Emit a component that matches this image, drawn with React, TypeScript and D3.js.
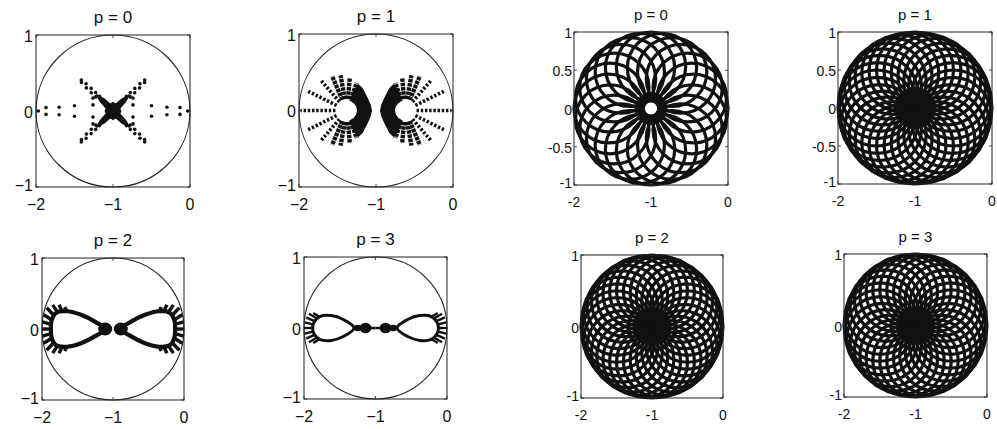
import React from "react";
import * as d3 from "d3";

const W = 997;
const H = 429;
const FONT = "'Liberation Sans', Arial, Helvetica, sans-serif";
const INK = "#111";

// ---------- data (offsets are measured from the disc centre at (-1, 0)) ----------

// p = 0, scatter: first-quadrant dots, mirrored about both axes
const p0AxisDots: [number, number][] = [
  [0.97, 0], [0.87, 0.045], [0.7, 0.05], [0.5, 0.07], [0.26, 0.08], [0.26, 0.17],
];
const p0ArmAngle = 43.6; // degrees
// [distance along the diagonal arm, sideways offset]
const p0ArmDots: [number, number][] = [
  [0.58, 0.012], [0.555, -0.012], [0.5, 0.018], [0.46, -0.018], [0.41, 0.02],
  [0.37, -0.02], [0.33, 0.02], [0.29, -0.02], [0.26, 0.02],
];
// dense core outline, [angle deg, radius] in the first quadrant
const p0Core: [number, number][] = [
  [0, 0.1], [22, 0.09], [37, 0.2], [45, 0.3], [53, 0.2], [68, 0.09], [90, 0.11],
];

// p = 1, scatter: two ringed clusters
const p1EyeOffset = 0.377;
const p1HoleRadius = 0.13;
const p1RayTips: [number, number][] = [
  [-0.98, 0], [-0.9, 0.26], [-0.72, 0.4], [-0.57, 0.45], [-0.46, 0.46], [-0.34, 0.43], [-0.25, 0.36],
];
const p1Lens: [number, number][] = [
  [-0.33, 0.13], [-0.29, 0.24], [-0.23, 0.33], [-0.18, 0.28], [-0.12, 0.16], [-0.08, 0.07], [-0.065, 0],
];

// p = 2, scatter: figure-of-eight
const p2Lobe: [number, number][] = [
  [0.11, 0], [0.25, 0.1], [0.45, 0.2], [0.65, 0.25], [0.8, 0.23], [0.865, 0.12], [0.875, 0],
];
const p2Knots: [number, number][] = [[0.11, 0.09]]; // [offset, radius]
const p2Comb: [number, number, number, number][] = [
  [0.86, 0, 1.0, 0], [0.86, 0.06, 0.995, 0.1], [0.85, 0.12, 0.975, 0.2], [0.82, 0.18, 0.935, 0.3],
  [0.77, 0.22, 0.85, 0.34], [0.71, 0.24, 0.76, 0.34], [0.65, 0.25, 0.68, 0.31],
];

// p = 3, scatter: flatter figure-of-eight
const p3Lobe: [number, number][] = [
  [0.3, 0], [0.45, 0.12], [0.62, 0.175], [0.78, 0.16], [0.86, 0.08], [0.88, 0],
];
const p3Knots: [number, number][] = [[0.14, 0.075], [0.25, 0.045]];
const p3Comb: [number, number, number, number][] = [
  [0.88, 0, 1.0, 0], [0.875, 0.05, 0.99, 0.08], [0.86, 0.1, 0.97, 0.15],
  [0.83, 0.14, 0.93, 0.2], [0.79, 0.16, 0.87, 0.21],
];

// rosettes: number of circles, circle radius, distance of centres from (-1, 0)
const rosetteCount = [24, 32, 32, 32];
const rosetteRadius = [0.45, 0.5, 0.5, 0.5];
const rosetteOffset = [0.55, 0.5, 0.5, 0.5];

const titles = ["p = 0", "p = 1", "p = 2", "p = 3"];
const xTicks = [-2, -1, 0];
const yTicksLeft = [-1, 0, 1];
const yTicksRightTop = [-1, -0.5, 0, 0.5, 1];
const yTicksRightBottom = [-1, 0, 1];

// ---------- layout ----------
type Frame = { l: number; t: number; r: number; b: number };
const frames: Frame[] = [
  { l: 36, t: 35, r: 190, b: 187 },
  { l: 299, t: 34, r: 453, b: 187 },
  { l: 42, t: 258, r: 184, b: 400 },
  { l: 304, t: 257, r: 447, b: 399 },
  { l: 574, t: 32, r: 728, b: 185 },
  { l: 838, t: 32, r: 992, b: 184 },
  { l: 581, t: 255, r: 723, b: 398 },
  { l: 844, t: 254, r: 987, b: 397 },
];

type S = d3.ScaleLinear<number, number>;

function mirror4(pts: [number, number][]): [number, number][] {
  const out: [number, number][] = [];
  const seen = new Set<string>();
  for (const [a, b] of pts) {
    for (const sx of [1, -1]) for (const sy of [1, -1]) {
      const p: [number, number] = [a * sx, b * sy];
      const k = p[0].toFixed(4) + "," + p[1].toFixed(4);
      if (!seen.has(k)) { seen.add(k); out.push(p); }
    }
  }
  return out;
}

function fmt(v: number, minus: string) {
  return String(v).replace("-", minus);
}

function Axes(props: {
  f: Frame; title: string; yTicks: number[]; variant: "left" | "right";
  draw: (x: S, y: S) => React.ReactNode;
}) {
  const { f, title, yTicks, variant, draw } = props;
  const x = d3.scaleLinear().domain([-2, 0]).range([f.l, f.r]);
  const y = d3.scaleLinear().domain([-1, 1]).range([f.b, f.t]);
  const left = variant === "left";
  const fs = left ? 16 : 14;
  const tfs = left ? 17 : 15;
  const minus = left ? "\u2212" : "-";
  const tl = 3;
  return (
    <g>
      {draw(x, y)}
      <rect x={f.l} y={f.t} width={f.r - f.l} height={f.b - f.t} fill="none" stroke="#222" strokeWidth={1} />
      {xTicks.map((v) => (
        <g key={"xt" + v}>
          <line x1={x(v)} x2={x(v)} y1={f.b} y2={f.b - tl} stroke="#222" strokeWidth={0.8} />
          <line x1={x(v)} x2={x(v)} y1={f.t} y2={f.t + tl} stroke="#222" strokeWidth={0.8} />
          <text x={x(v)} y={f.b + 17} textAnchor="middle" dominantBaseline="central"
            fontFamily={FONT} fontSize={fs} fill={INK}>{fmt(v, minus)}</text>
        </g>
      ))}
      {yTicks.map((v) => (
        <g key={"yt" + v}>
          <line x1={f.l} x2={f.l + tl} y1={y(v)} y2={y(v)} stroke="#222" strokeWidth={0.8} />
          <line x1={f.r} x2={f.r - tl} y1={y(v)} y2={y(v)} stroke="#222" strokeWidth={0.8} />
          <text x={f.l - (left ? 3 : 2)} y={y(v) + (v === -1 ? -2 : 1)} textAnchor="end" dominantBaseline="central"
            fontFamily={FONT} fontSize={fs} fill={INK}>{fmt(v, minus)}</text>
        </g>
      ))}
      <text x={(f.l + f.r) / 2} y={f.t - 18} textAnchor="middle" dominantBaseline="central"
        fontFamily={FONT} fontSize={tfs} fill={INK}>{title}</text>
    </g>
  );
}

function UnitCircle({ x, y }: { x: S; y: S }) {
  return (
    <ellipse cx={x(-1)} cy={y(0)} rx={x(0) - x(-1)} ry={y(0) - y(1)}
      fill="none" stroke="#222" strokeWidth={1.1} />
  );
}

function P0({ x, y }: { x: S; y: S }) {
  const px = (dx: number) => x(-1 + dx);
  const py = (dy: number) => y(dy);
  const a = (p0ArmAngle * Math.PI) / 180;
  const arm: [number, number][] = p0ArmDots.map(([r, o]) => [
    r * Math.cos(a) - o * Math.sin(a), r * Math.sin(a) + o * Math.cos(a),
  ]);
  const dots = mirror4(p0AxisDots).concat(mirror4(arm));
  const corePts: [number, number][] = [];
  for (const [deg, r] of p0Core) corePts.push([deg, r]);
  for (const [deg, r] of p0Core) corePts.push([180 - deg, r]);
  for (const [deg, r] of p0Core) corePts.push([180 + deg, r]);
  for (const [deg, r] of p0Core) corePts.push([360 - deg, r]);
  corePts.sort((p, q) => p[0] - q[0]);
  const core = d3.line<[number, number]>()
    .x((d) => px(d[1] * Math.cos((d[0] * Math.PI) / 180)))
    .y((d) => py(d[1] * Math.sin((d[0] * Math.PI) / 180)))
    .curve(d3.curveLinearClosed)(corePts) as string;
  return (
    <g>
      <UnitCircle x={x} y={y} />
      <path d={core} fill={INK} stroke={INK} strokeWidth={1.5} strokeLinejoin="round" />
      {dots.map((d, i) => (
        <circle key={i} cx={px(d[0])} cy={py(d[1])} r={1.8} fill={INK} />
      ))}
    </g>
  );
}

function P1({ x, y }: { x: S; y: S }) {
  const px = (dx: number) => x(-1 + dx);
  const py = (dy: number) => y(dy);
  const kx = x(0) - x(-1);
  const ky = y(0) - y(1);
  return (
    <g>
      <UnitCircle x={x} y={y} />
      {[1, -1].map((sx) => {
        const ex = -p1EyeOffset;
        const lower = p1Lens.slice(0, -1).map(([a, b]) => [a, -b] as [number, number]).reverse();
        const poly: [number, number][] = [[ex, 0.05] as [number, number]]
          .concat(p1Lens).concat(lower).concat([[ex, -0.05]]);
        const lens = d3.line<[number, number]>()
          .x((d) => px(sx * d[0])).y((d) => py(d[1]))
          .curve(d3.curveLinearClosed)(poly) as string;
        const tips = mirror4(p1RayTips).filter((t) => t[0] < 0);
        return (
          <g key={sx}>
            <path d={lens} fill={INK} stroke={INK} strokeWidth={2} strokeLinejoin="round" />
            {tips.map((t, i) => {
              const vx = t[0] - ex;
              const vy = t[1];
              const len = Math.hypot(vx, vy);
              const s0 = p1HoleRadius + 0.02;
              const outer = t[0] < -0.7;
              return (
                <line key={i}
                  x1={px(sx * (ex + (vx / len) * s0))} y1={py((vy / len) * s0)}
                  x2={px(sx * t[0])} y2={py(t[1])}
                  stroke={INK} strokeWidth={outer ? 3.6 : 4.4}
                  strokeDasharray={outer ? "2.4 1.8" : "3.5 0.8"} />
              );
            })}
            <ellipse cx={px(sx * ex)} cy={py(0)} rx={p1HoleRadius * kx} ry={p1HoleRadius * ky}
              fill="#fff" />
          </g>
        );
      })}
    </g>
  );
}

function Eight(props: {
  x: S; y: S; lobe: [number, number][]; knots: [number, number][];
  comb: [number, number, number, number][]; width: number; combWidth: number; bridge: boolean;
}) {
  const { x, y, lobe, knots, comb, width, combWidth, bridge } = props;
  const px = (dx: number) => x(-1 + dx);
  const py = (dy: number) => y(dy);
  const kx = x(0) - x(-1);
  const ky = y(0) - y(1);
  return (
    <g>
      <UnitCircle x={x} y={y} />
      {[1, -1].map((sx) => {
        const pts: [number, number][] = lobe
          .concat(lobe.slice(1, -1).map(([a, b]) => [a, -b] as [number, number]).reverse());
        const d = d3.line<[number, number]>()
          .x((p) => px(sx * p[0])).y((p) => py(p[1]))
          .curve(d3.curveCatmullRomClosed)(pts) as string;
        const combs = comb.flatMap((c) => (c[1] === 0 && c[3] === 0 ? [c] : [c, [c[0], -c[1], c[2], -c[3]] as typeof c]));
        return (
          <g key={sx}>
            <path d={d} fill="none" stroke={INK} strokeWidth={width} />
            {combs.map((c, i) => (
              <line key={i} x1={px(sx * c[0])} y1={py(c[1])} x2={px(sx * c[2])} y2={py(c[3])}
                stroke={INK} strokeWidth={combWidth} />
            ))}
            {knots.map(([o, r], i) => (
              <ellipse key={i} cx={px(sx * o)} cy={py(0)} rx={r * kx * 1.1} ry={r * ky} fill={INK} />
            ))}
            {bridge && (
              <line x1={px(0)} y1={py(0)} x2={px(sx * lobe[0][0])} y2={py(0)} stroke={INK} strokeWidth={2.5} />
            )}
          </g>
        );
      })}
    </g>
  );
}

function Rosette({ x, y, i }: { x: S; y: S; i: number }) {
  const kx = x(0) - x(-1);
  const ky = y(0) - y(1);
  const n = rosetteCount[i];
  const r = rosetteRadius[i];
  const d = rosetteOffset[i];
  return (
    <g>
      {d3.range(n).map((k) => {
        const th = (2 * Math.PI * k) / n;
        return (
          <ellipse key={k} cx={x(-1 + d * Math.cos(th))} cy={y(d * Math.sin(th))}
            rx={r * kx} ry={r * ky} fill="none" stroke={INK} strokeWidth={3.2} />
        );
      })}
    </g>
  );
}

export default function App() {
  return (
    <svg width={W} height={H} viewBox={`0 0 ${W} ${H}`}
      style={{ position: "absolute", left: 0, top: 0, background: "#fff" }}>
      <rect width={W} height={H} fill="#fff" />
      <Axes f={frames[0]} title={titles[0]} yTicks={yTicksLeft} variant="left"
        draw={(x, y) => <P0 x={x} y={y} />} />
      <Axes f={frames[1]} title={titles[1]} yTicks={yTicksLeft} variant="left"
        draw={(x, y) => <P1 x={x} y={y} />} />
      <Axes f={frames[2]} title={titles[2]} yTicks={yTicksLeft} variant="left"
        draw={(x, y) => <Eight x={x} y={y} lobe={p2Lobe} knots={p2Knots} comb={p2Comb} width={4.2} combWidth={3.4} bridge={false} />} />
      <Axes f={frames[3]} title={titles[3]} yTicks={yTicksLeft} variant="left"
        draw={(x, y) => <Eight x={x} y={y} lobe={p3Lobe} knots={p3Knots} comb={p3Comb} width={3} combWidth={2.4} bridge={true} />} />
      {[0, 1, 2, 3].map((i) => (
        <Axes key={"r" + i} f={frames[4 + i]} title={titles[i]}
          yTicks={i < 2 ? yTicksRightTop : yTicksRightBottom} variant="right"
          draw={(x, y) => <Rosette x={x} y={y} i={i} />} />
      ))}
    </svg>
  );
}
